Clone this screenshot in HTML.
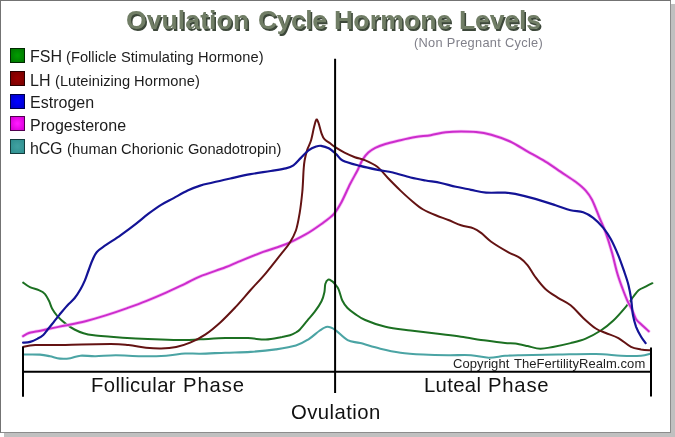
<!DOCTYPE html>
<html><head><meta charset="utf-8">
<style>
html,body{margin:0;padding:0;background:#fff;}
body{width:675px;height:437px;overflow:hidden;position:relative;font-family:"Liberation Sans",sans-serif;}
#shadow{position:absolute;left:4px;top:4px;width:671px;height:433px;background:#c0c0c0;}
#frame{position:absolute;left:0;top:0;width:669px;height:431px;border:1px solid #737373;border-right-color:#8c8c8c;border-bottom-color:#8c8c8c;background:#fff;}
.t{will-change:transform;position:absolute;white-space:nowrap;line-height:1;color:#1c1c1c;}
.ti{font-weight:bold;color:#717e66;text-shadow:1.5px 1.5px 0.5px #3d483a;}
.su{color:#80808a;}
.lg{color:#1c1c1c;}
.sq{position:absolute;left:10px;width:13px;height:13px;border:1px solid #222;}
.ph{color:#111;}
.cp{color:#222;}
svg{position:absolute;left:0;top:0;}
</style></head><body>
<div id="shadow"></div>
<div id="frame"></div>

<div class="sq" style="top:48px;background:radial-gradient(circle,#009a00 10%,#007800 90%);border-color:#002800"></div>
<div class="sq" style="top:71px;background:radial-gradient(circle,#980000 10%,#7a0000 90%);border-color:#2a0000"></div>
<div class="sq" style="top:94px;background:radial-gradient(circle,#0000ff 10%,#0000cc 90%);border-color:#000048"></div>
<div class="sq" style="top:116px;background:radial-gradient(circle,#ff18ff 10%,#d800d8 90%);border-color:#500050"></div>
<div class="sq" style="top:139px;background:radial-gradient(circle,#3fa0a0 10%,#309090 90%);border-color:#143c3c"></div>

<svg width="675" height="437" viewBox="0 0 675 437" fill="none" stroke-linecap="round" stroke-linejoin="round">
  <path d="M23.8 354.5C26.5 354.5 35.6 354.3 40.0 354.6C44.4 354.9 46.7 355.6 50.0 356.3C53.3 357.0 56.6 358.3 60.0 358.6C63.4 358.9 67.0 358.7 70.4 358.2C73.8 357.7 76.3 356.0 80.5 355.7C84.7 355.4 89.7 356.3 95.6 356.2C101.5 356.1 108.2 355.2 115.8 355.2C123.4 355.2 132.6 356.1 141.0 356.2C149.4 356.3 158.8 356.1 166.1 355.7C173.4 355.2 179.3 353.8 185.0 353.5C190.7 353.2 193.5 353.8 200.2 353.7C206.9 353.6 217.0 353.0 225.4 352.7C233.8 352.4 242.2 352.4 250.6 351.9C259.0 351.3 268.2 350.4 275.8 349.4C283.4 348.3 290.4 347.3 295.9 345.6C301.3 343.9 304.5 341.8 308.5 339.3C312.5 336.8 316.7 332.6 319.8 330.5C322.9 328.4 324.9 326.9 327.4 326.8C329.9 326.7 331.6 327.6 335.0 329.8C338.4 332.0 343.4 337.9 347.6 340.1C351.8 342.3 354.8 341.7 360.2 343.1C365.6 344.5 373.6 347.1 380.3 348.7C387.0 350.3 393.4 351.7 400.5 352.7C407.6 353.7 415.2 354.1 423.2 354.5C431.2 354.9 440.4 355.1 448.4 355.2C456.4 355.3 464.3 354.8 471.0 355.2C477.7 355.6 483.0 357.6 488.7 357.7C494.4 357.8 499.8 356.2 505.0 355.8C510.2 355.4 511.4 355.4 520.2 355.2C529.0 355.0 545.4 354.7 558.0 354.5C570.6 354.3 585.3 353.8 595.8 354.0C606.3 354.2 613.5 355.4 621.0 355.7C628.5 356.0 636.2 356.0 641.0 355.7C645.8 355.4 648.5 354.0 650.0 353.7" stroke="#4ba4a4" stroke-width="2.1"/>
  <path d="M23.2 282.6C24.3 283.4 27.3 285.9 29.9 287.1C32.5 288.4 36.3 289.0 38.8 290.1C41.3 291.2 43.1 291.9 44.8 293.8C46.5 295.7 48.0 298.8 49.2 301.3C50.4 303.8 50.8 306.2 52.2 308.7C53.6 311.2 55.2 313.6 57.4 316.1C59.6 318.6 62.7 321.4 65.6 323.6C68.4 325.8 71.5 327.9 74.5 329.5C77.5 331.1 80.3 332.2 83.5 333.2C86.7 334.2 89.4 334.7 93.9 335.3C98.4 335.9 103.7 336.2 110.7 336.8C117.7 337.4 127.5 338.1 135.9 338.6C144.3 339.1 152.9 339.4 161.1 339.6C169.3 339.9 178.5 340.2 185.0 340.1C191.5 340.1 193.5 339.6 200.2 339.3C206.9 339.0 217.4 338.3 225.4 338.1C233.4 337.9 241.3 337.9 248.0 338.1C254.7 338.4 260.2 339.7 265.7 339.6C271.2 339.5 277.9 337.8 280.8 337.3C283.7 336.8 281.5 337.1 283.0 336.8C284.5 336.5 287.9 336.0 290.0 335.3C292.1 334.6 294.2 333.5 295.9 332.5C297.5 331.5 298.0 331.5 299.9 329.5C301.8 327.5 304.8 323.6 307.3 320.6C309.8 317.6 312.4 314.9 314.8 311.7C317.2 308.5 319.9 304.5 321.5 301.3C323.1 298.1 323.8 295.2 324.4 292.3C325.0 289.4 324.7 286.1 325.3 284.0C325.9 281.9 327.1 280.2 328.2 279.7C329.3 279.2 330.9 280.5 332.0 281.2C333.1 281.9 333.4 282.2 334.5 283.6C335.6 285.0 337.3 286.5 338.6 289.3C339.9 292.1 340.8 297.4 342.3 300.5C343.8 303.6 345.4 305.8 347.5 308.0C349.6 310.2 351.9 311.8 354.9 313.8C357.8 315.8 360.1 317.8 365.2 320.0C370.3 322.2 377.8 325.1 385.4 326.8C393.0 328.6 402.2 329.4 410.6 330.5C419.0 331.6 427.4 332.6 435.8 333.6C444.2 334.7 452.6 335.6 461.0 336.8C469.4 338.0 478.8 339.6 486.1 340.6C493.4 341.7 500.1 342.6 505.0 343.1C509.9 343.6 511.4 343.1 515.2 343.6C519.0 344.1 523.5 345.2 527.7 346.1C531.9 347.0 536.1 348.6 540.3 348.7C544.5 348.8 547.8 347.8 552.9 346.9C558.0 346.0 565.1 344.5 570.6 343.1C576.1 341.7 580.7 340.7 585.7 338.6C590.7 336.5 596.2 333.5 600.8 330.5C605.4 327.5 609.2 324.5 613.4 320.5C617.6 316.5 622.6 310.6 626.0 306.6C629.4 302.6 631.4 299.2 633.5 296.5C635.6 293.8 636.5 291.9 638.6 290.2C640.7 288.5 643.8 287.6 646.1 286.4C648.4 285.2 651.4 283.7 652.4 283.2" stroke="#1c7022" stroke-width="2"/>
  <path d="M23.1 336.1C24.1 335.6 26.5 333.8 28.9 333.0C31.3 332.2 34.1 332.1 37.7 331.3C41.3 330.6 45.7 329.5 50.3 328.5C54.9 327.5 59.5 326.7 65.4 325.5C71.3 324.3 78.8 322.9 85.5 321.2C92.2 319.5 99.0 317.5 105.7 315.4C112.4 313.3 119.1 311.0 125.8 308.6C132.5 306.2 139.3 303.8 146.0 301.1C152.7 298.5 159.6 295.6 166.1 292.7C172.6 289.8 179.3 286.5 185.0 283.8C190.7 281.1 193.5 279.1 200.2 276.4C206.9 273.6 219.0 269.8 225.4 267.3C231.8 264.9 232.4 264.3 238.7 261.7C245.0 259.1 255.3 254.8 263.2 251.9C271.1 249.0 278.7 247.2 285.8 244.3C292.9 241.4 300.1 237.5 306.0 234.2C311.9 230.8 316.5 227.5 321.1 224.2C325.7 220.8 330.4 217.7 333.7 214.1C337.0 210.5 338.5 207.7 341.2 202.7C343.9 197.7 347.4 189.4 350.1 184.0C352.9 178.6 355.6 174.0 357.7 170.0C359.8 166.0 360.6 162.9 362.4 160.0C364.2 157.1 366.1 154.6 368.3 152.6C370.5 150.6 372.5 149.2 375.3 147.8C378.1 146.4 381.2 145.3 385.4 144.0C389.6 142.7 395.5 141.4 400.5 140.2C405.5 139.0 410.6 137.8 415.6 137.0C420.6 136.2 425.7 136.0 430.7 135.2C435.7 134.4 440.8 132.8 445.8 132.2C450.9 131.6 455.9 131.4 461.0 131.4C466.1 131.4 471.1 131.4 476.1 131.9C481.1 132.4 485.5 133.1 491.2 134.7C496.9 136.3 504.0 138.7 510.1 141.5C516.2 144.3 521.8 148.2 527.7 151.6C533.6 154.9 539.9 158.2 545.4 161.6C550.9 164.9 555.5 168.3 560.5 171.7C565.5 175.1 571.4 178.7 575.6 181.8C579.8 185.0 583.0 187.6 585.7 190.6C588.4 193.6 589.7 195.3 592.0 199.8C594.3 204.3 597.2 212.3 599.5 217.8C601.8 223.3 603.7 227.0 605.8 232.9C607.9 238.8 610.2 246.3 612.1 253.0C614.0 259.7 615.5 267.2 617.2 273.0C618.9 278.8 620.5 283.1 622.2 287.7C623.9 292.2 625.5 296.5 627.2 300.3C628.9 304.1 630.8 307.2 632.3 310.4C633.8 313.5 634.4 316.7 636.1 319.2C637.8 321.7 640.3 323.5 642.4 325.5C644.5 327.5 647.7 330.3 648.7 331.3" stroke="#f8c0f8" stroke-width="3.5"/>
  <path d="M23.1 336.1C24.1 335.6 26.5 333.8 28.9 333.0C31.3 332.2 34.1 332.1 37.7 331.3C41.3 330.6 45.7 329.5 50.3 328.5C54.9 327.5 59.5 326.7 65.4 325.5C71.3 324.3 78.8 322.9 85.5 321.2C92.2 319.5 99.0 317.5 105.7 315.4C112.4 313.3 119.1 311.0 125.8 308.6C132.5 306.2 139.3 303.8 146.0 301.1C152.7 298.5 159.6 295.6 166.1 292.7C172.6 289.8 179.3 286.5 185.0 283.8C190.7 281.1 193.5 279.1 200.2 276.4C206.9 273.6 219.0 269.8 225.4 267.3C231.8 264.9 232.4 264.3 238.7 261.7C245.0 259.1 255.3 254.8 263.2 251.9C271.1 249.0 278.7 247.2 285.8 244.3C292.9 241.4 300.1 237.5 306.0 234.2C311.9 230.8 316.5 227.5 321.1 224.2C325.7 220.8 330.4 217.7 333.7 214.1C337.0 210.5 338.5 207.7 341.2 202.7C343.9 197.7 347.4 189.4 350.1 184.0C352.9 178.6 355.6 174.0 357.7 170.0C359.8 166.0 360.6 162.9 362.4 160.0C364.2 157.1 366.1 154.6 368.3 152.6C370.5 150.6 372.5 149.2 375.3 147.8C378.1 146.4 381.2 145.3 385.4 144.0C389.6 142.7 395.5 141.4 400.5 140.2C405.5 139.0 410.6 137.8 415.6 137.0C420.6 136.2 425.7 136.0 430.7 135.2C435.7 134.4 440.8 132.8 445.8 132.2C450.9 131.6 455.9 131.4 461.0 131.4C466.1 131.4 471.1 131.4 476.1 131.9C481.1 132.4 485.5 133.1 491.2 134.7C496.9 136.3 504.0 138.7 510.1 141.5C516.2 144.3 521.8 148.2 527.7 151.6C533.6 154.9 539.9 158.2 545.4 161.6C550.9 164.9 555.5 168.3 560.5 171.7C565.5 175.1 571.4 178.7 575.6 181.8C579.8 185.0 583.0 187.6 585.7 190.6C588.4 193.6 589.7 195.3 592.0 199.8C594.3 204.3 597.2 212.3 599.5 217.8C601.8 223.3 603.7 227.0 605.8 232.9C607.9 238.8 610.2 246.3 612.1 253.0C614.0 259.7 615.5 267.2 617.2 273.0C618.9 278.8 620.5 283.1 622.2 287.7C623.9 292.2 625.5 296.5 627.2 300.3C628.9 304.1 630.8 307.2 632.3 310.4C633.8 313.5 634.4 316.7 636.1 319.2C637.8 321.7 640.3 323.5 642.4 325.5C644.5 327.5 647.7 330.3 648.7 331.3" stroke="#cc2ccc" stroke-width="2"/>
  <path d="M23.1 346.9C25.1 346.6 28.2 345.4 35.2 345.1C42.2 344.8 52.8 345.1 65.4 344.9C78.0 344.7 100.2 344.1 110.7 344.1C121.2 344.1 122.5 344.5 128.4 345.1C134.3 345.7 140.6 347.1 146.0 347.7C151.4 348.2 156.1 348.5 161.1 348.4C166.1 348.3 171.4 347.9 176.2 346.9C181.0 345.9 185.3 344.7 190.1 342.6C194.9 340.6 200.2 338.0 205.2 334.6C210.2 331.2 215.2 327.0 220.3 322.4C225.4 317.8 230.4 312.5 235.5 307.1C240.6 301.7 245.6 295.6 250.6 290.0C255.6 284.4 260.7 279.2 265.7 273.3C270.7 267.4 276.8 259.4 280.8 254.4C284.8 249.4 287.1 247.0 289.6 243.0C292.1 239.0 294.2 235.5 295.9 230.5C297.6 225.5 298.6 219.2 299.7 212.8C300.8 206.4 301.6 199.1 302.3 192.0C303.0 184.9 303.2 175.2 303.6 170.0C304.0 164.8 304.0 163.9 304.6 160.5C305.2 157.1 306.2 152.9 307.3 149.6C308.4 146.3 309.9 144.2 311.0 140.5C312.1 136.8 313.1 130.8 314.0 127.3C314.9 123.8 315.6 120.3 316.3 119.6C317.1 118.9 317.6 120.6 318.5 122.9C319.4 125.2 320.5 130.6 321.5 133.3C322.5 136.0 323.0 137.6 324.4 139.2C325.8 140.8 327.7 141.5 329.6 142.9C331.5 144.3 333.1 145.8 335.6 147.4C338.1 149.0 341.3 151.0 344.5 152.6C347.7 154.2 351.4 155.9 354.9 157.2C358.4 158.5 361.7 158.7 365.4 160.3C369.1 161.9 373.6 163.9 377.3 166.8C381.1 169.8 384.0 174.0 387.9 178.0C391.8 182.0 396.3 186.6 400.5 190.6C404.7 194.6 409.3 198.8 413.1 201.9C416.9 205.1 419.4 207.3 423.2 209.5C427.0 211.7 431.6 213.6 435.8 215.3C440.0 217.1 444.2 218.3 448.4 220.0C452.6 221.7 456.8 223.9 461.0 225.3C465.2 226.7 470.1 227.1 473.5 228.4C476.9 229.7 478.2 230.7 481.1 232.9C484.1 235.1 486.8 238.5 491.2 241.7C495.6 244.8 502.8 249.1 507.6 251.8C512.4 254.5 516.9 255.9 520.2 258.1C523.6 260.4 525.2 262.2 527.7 265.3C530.2 268.4 532.3 273.1 535.3 277.0C538.2 280.9 541.6 285.5 545.4 289.0C549.2 292.5 553.8 295.1 558.0 297.8C562.2 300.5 566.4 302.0 570.6 305.3C574.8 308.6 579.0 314.0 583.2 317.9C587.4 321.8 592.0 326.0 595.8 328.5C599.6 331.0 602.0 331.4 605.8 333.0C609.6 334.6 614.2 335.8 618.4 338.1C622.6 340.4 627.2 345.0 631.0 346.9C634.8 348.8 638.0 348.8 641.1 349.4C644.2 349.9 648.4 350.1 649.9 350.2" stroke="#641313" stroke-width="2"/>
  <path d="M23.1 342.6C24.3 342.5 27.7 342.6 30.1 341.9C32.5 341.2 35.5 339.8 37.7 338.6C39.9 337.5 41.6 336.5 43.3 335.0C45.0 333.5 46.0 331.6 47.7 329.5C49.4 327.4 51.7 324.6 53.7 322.1C55.7 319.6 57.4 317.3 59.6 314.6C61.8 311.9 64.6 308.4 67.1 305.7C69.6 303.0 72.3 301.0 74.5 298.3C76.7 295.6 78.8 292.3 80.5 289.3C82.2 286.3 83.5 283.6 84.9 280.4C86.3 277.2 87.4 273.4 88.7 270.0C90.0 266.6 91.1 263.0 92.5 260.0C93.9 257.0 94.7 254.4 96.9 251.9C99.1 249.4 101.7 248.0 105.7 245.2C109.7 242.4 115.8 238.7 120.8 235.1C125.8 231.5 131.3 227.4 135.9 223.8C140.5 220.2 144.3 216.9 148.5 213.7C152.7 210.6 156.9 207.5 161.1 204.9C165.3 202.3 169.3 200.5 173.7 198.1C178.1 195.7 183.2 192.7 187.6 190.6C192.0 188.5 196.0 186.9 200.2 185.6C204.4 184.2 207.8 183.7 212.8 182.5C217.8 181.3 224.1 179.9 230.4 178.5C236.7 177.1 243.9 175.4 250.6 174.2C257.3 172.9 264.8 172.0 270.7 171.0C276.6 170.0 282.0 169.3 285.8 168.4C289.6 167.5 290.9 167.2 293.4 165.4C295.9 163.7 298.4 160.4 300.9 157.9C303.4 155.4 306.0 152.2 308.5 150.3C311.0 148.4 314.0 147.2 316.1 146.5C318.2 145.8 319.0 145.5 321.1 145.8C323.2 146.1 326.2 146.9 328.7 148.3C331.2 149.7 333.9 152.1 336.2 154.1C338.5 156.1 338.6 158.4 342.6 160.4C346.6 162.4 354.3 164.3 360.2 165.9C366.1 167.5 372.4 168.8 377.8 169.9C383.2 171.0 387.4 171.2 392.9 172.5C398.4 173.8 405.1 176.2 410.6 177.5C416.1 178.8 420.7 179.6 425.7 180.5C430.7 181.4 435.8 181.9 440.8 183.0C445.8 184.1 450.9 185.7 455.9 186.8C460.9 187.9 466.0 188.8 471.0 189.8C476.0 190.8 480.4 192.1 486.1 192.6C491.8 193.1 500.1 192.4 505.0 192.6C509.9 192.8 510.2 192.8 515.2 193.9C520.2 195.0 528.6 197.0 535.3 198.9C542.0 200.8 549.6 203.3 555.5 205.2C561.4 207.1 566.0 209.0 570.6 210.2C575.2 211.4 579.4 210.9 583.2 212.2C587.0 213.5 589.9 215.2 593.2 217.8C596.6 220.4 600.3 224.3 603.3 227.9C606.2 231.5 608.4 234.6 610.9 239.2C613.4 243.8 616.1 250.0 618.4 255.6C620.7 261.2 623.0 268.1 624.7 273.0C626.4 277.9 627.5 281.1 628.5 285.2C629.5 289.3 630.2 292.8 631.0 297.8C631.8 302.8 632.1 310.6 633.0 315.4C633.9 320.2 634.8 323.2 636.1 326.8C637.5 330.4 639.5 334.1 641.1 336.8C642.7 339.5 644.9 342.1 645.6 343.1" stroke="#131396" stroke-width="2.2"/>
  <g stroke="#000" stroke-width="2" stroke-linecap="butt">
    <path d="M335.1 58.7V392.9"/>
    <path d="M22 371.8H652"/>
    <path d="M23 346.8V396.8"/>
    <path d="M651 347.4V396.5"/>
  </g>
</svg>

<div class="t ti" style="left:126.1px;top:6.8px;font-size:26.5px;letter-spacing:0.11px">Ovulation</div>
<div class="t ti" style="left:257.7px;top:6.8px;font-size:26.5px;letter-spacing:-0.42px">Cycle</div>
<div class="t ti" style="left:334.1px;top:6.8px;font-size:26.5px;letter-spacing:0.19px">Hormone</div>
<div class="t ti" style="left:459.3px;top:6.8px;font-size:26.5px;letter-spacing:-0.08px">Levels</div>
<div class="t su" style="left:414.2px;top:37.2px;font-size:12.8px;letter-spacing:0.3px">(Non Pregnant Cycle)</div>
<div class="t lg" style="left:29.8px;top:49.1px;font-size:16px;letter-spacing:-0.01px">FSH</div>
<div class="t lg" style="left:65.7px;top:50.2px;font-size:14.67px;letter-spacing:0.03px">(Follicle</div>
<div class="t lg" style="left:120.7px;top:50.2px;font-size:14.67px;letter-spacing:0.01px">Stimulating</div>
<div class="t lg" style="left:198.1px;top:50.2px;font-size:14.67px;letter-spacing:0.07px">Hormone)</div>
<div class="t lg" style="left:29.5px;top:72.8px;font-size:16px;letter-spacing:0.1px">LH</div>
<div class="t lg" style="left:54.9px;top:73.9px;font-size:14.67px;letter-spacing:0.02px">(Luteinizing</div>
<div class="t lg" style="left:134.2px;top:73.9px;font-size:14.67px;letter-spacing:0.11px">Hormone)</div>
<div class="t lg" style="left:29.5px;top:95.1px;font-size:16px;letter-spacing:0.02px">Estrogen</div>
<div class="t lg" style="left:29.8px;top:118.2px;font-size:16px">Progesterone</div>
<div class="t lg" style="left:30px;top:141.2px;font-size:16px;letter-spacing:-0.19px">hCG</div>
<div class="t lg" style="left:66.5px;top:142.3px;font-size:14.67px;letter-spacing:0.08px">(human</div>
<div class="t lg" style="left:121px;top:142.3px;font-size:14.67px;letter-spacing:0.08px">Chorionic</div>
<div class="t lg" style="left:188px;top:142.3px;font-size:14.67px;letter-spacing:-0.03px">Gonadotropin)</div>
<div class="t ph" style="left:91.4px;top:375.2px;font-size:20.3px;letter-spacing:0.38px">Follicular</div>
<div class="t ph" style="left:182.8px;top:375.2px;font-size:20.3px;letter-spacing:0.88px">Phase</div>
<div class="t ph" style="left:423.7px;top:375.2px;font-size:20.3px;letter-spacing:0.34px">Luteal</div>
<div class="t ph" style="left:488px;top:375.2px;font-size:20.3px;letter-spacing:0.77px">Phase</div>
<div class="t ph" style="left:291px;top:401.5px;font-size:20.3px;letter-spacing:0.45px">Ovulation</div>
<div class="t cp" style="left:452.8px;top:356.8px;font-size:13px;letter-spacing:0.09px">Copyright</div>
<div class="t cp" style="left:513.8px;top:356.8px;font-size:13px;letter-spacing:0.06px">TheFertilityRealm.com</div>
</body></html>
